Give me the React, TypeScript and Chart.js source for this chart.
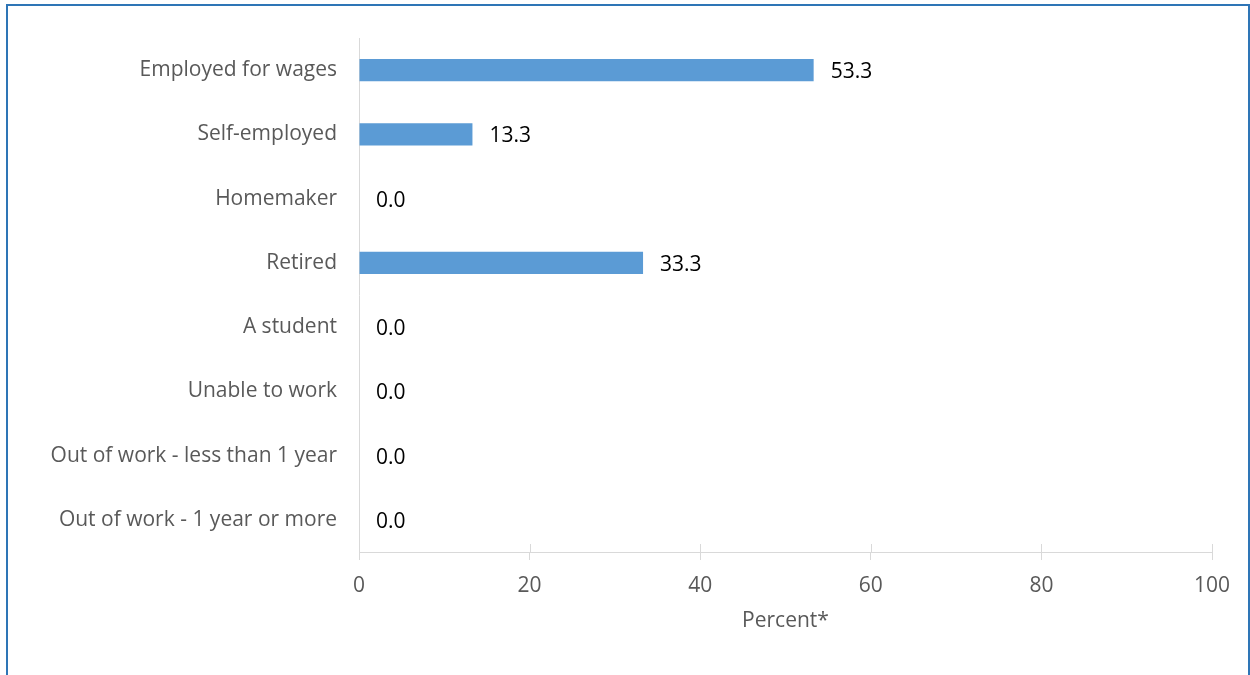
import React, { useEffect, useRef } from "react";
import { Chart, registerables } from "chart.js";

Chart.register(...registerables);

const categories = [
  "Employed for wages",
  "Self-employed",
  "Homemaker",
  "Retired",
  "A student",
  "Unable to work",
  "Out of work - less than 1 year",
  "Out of work - 1 year or more",
];
const percentValues = [53.3, 13.3, 0.0, 33.3, 0.0, 0.0, 0.0, 0.0];
const xTickValues = [0, 20, 40, 60, 80, 100];
const axisTitle = "Percent*";

const FONT = "'Open Sans', sans-serif";
const FS = 21;

const dataLabelPlugin = {
  id: "dataLabels",
  afterDatasetsDraw(chart: any) {
    const ctx = chart.ctx;
    const meta = chart.getDatasetMeta(0);
    ctx.save();
    ctx.font = `${FS}px ${FONT}`;
    ctx.fillStyle = "#000000";
    ctx.textAlign = "left";
    ctx.textBaseline = "middle";
    meta.data.forEach((el: any, i: number) => {
      const v = chart.data.datasets[0].data[i] as number;
      ctx.fillText(v.toFixed(1), el.x + 17, el.y + 2);
    });
    ctx.restore();
  },
};

const crossTickPlugin = {
  id: "crossTicks",
  afterDraw(chart: any) {
    const xs = chart.scales.x;
    const ctx = chart.ctx;
    const y = chart.chartArea.bottom;
    ctx.save();
    ctx.strokeStyle = "#D9D9D9";
    ctx.lineWidth = 1;
    xTickValues.forEach((v) => {
      const px = Math.round(xs.getPixelForValue(v)) + 0.5;
      ctx.beginPath();
      ctx.moveTo(px, y - 8);
      ctx.lineTo(px, y);
      ctx.stroke();
    });
    ctx.restore();
  },
};

export default function App() {
  const ref = useRef<HTMLCanvasElement>(null);
  useEffect(() => {
    document.body.style.margin = "0";
    const chart = new Chart(ref.current!, {
      type: "bar",
      data: {
        labels: categories,
        datasets: [
          {
            data: percentValues,
            backgroundColor: "#5B9BD5",
            borderWidth: 0,
            categoryPercentage: 1,
            barPercentage: 0.345,
          },
        ],
      },
      options: {
        indexAxis: "y",
        animation: false,
        responsive: false,
        maintainAspectRatio: false,
        layout: { padding: { top: 38, right: 38, bottom: 41, left: 0 } },
        plugins: {
          legend: { display: false },
          tooltip: { enabled: false },
        },
        scales: {
          y: {
            grid: { display: false, drawTicks: false },
            border: { display: true, color: "#D9D9D9", width: 1 },
            ticks: {
              color: "#595959",
              font: { family: FONT, size: FS },
              padding: 22,
            },
            afterFit(scale: any) {
              scale.width = 359;
            },
          },
          x: {
            min: 0,
            max: 100,
            grid: {
              display: true,
              drawOnChartArea: false,
              drawTicks: true,
              tickLength: 8,
              color: "#D9D9D9",
            },
            border: { display: true, color: "#D9D9D9", width: 1 },
            ticks: {
              stepSize: 20,
              color: "#595959",
              font: { family: FONT, size: FS },
              padding: 13,
            },
            title: {
              display: true,
              text: axisTitle,
              color: "#595959",
              font: { family: FONT, size: FS },
              padding: { top: 12, bottom: 0 },
            },
            afterFit(scale: any) {
              scale.height = 82;
            },
          },
        },
      },
      plugins: [dataLabelPlugin, crossTickPlugin],
    });
    return () => chart.destroy();
  }, []);

  return (
    <div style={{ position: "relative", width: 1250, height: 675, overflow: "hidden", background: "#fff" }}>
      <canvas ref={ref} width={1250} height={675} style={{ position: "absolute", left: 0, top: 0 }} />
      <div
        style={{
          position: "absolute",
          left: 6,
          top: 4,
          width: 1244,
          height: 700,
          border: "2px solid #2E75B6",
          boxSizing: "border-box",
          pointerEvents: "none",
        }}
      />
    </div>
  );
}
